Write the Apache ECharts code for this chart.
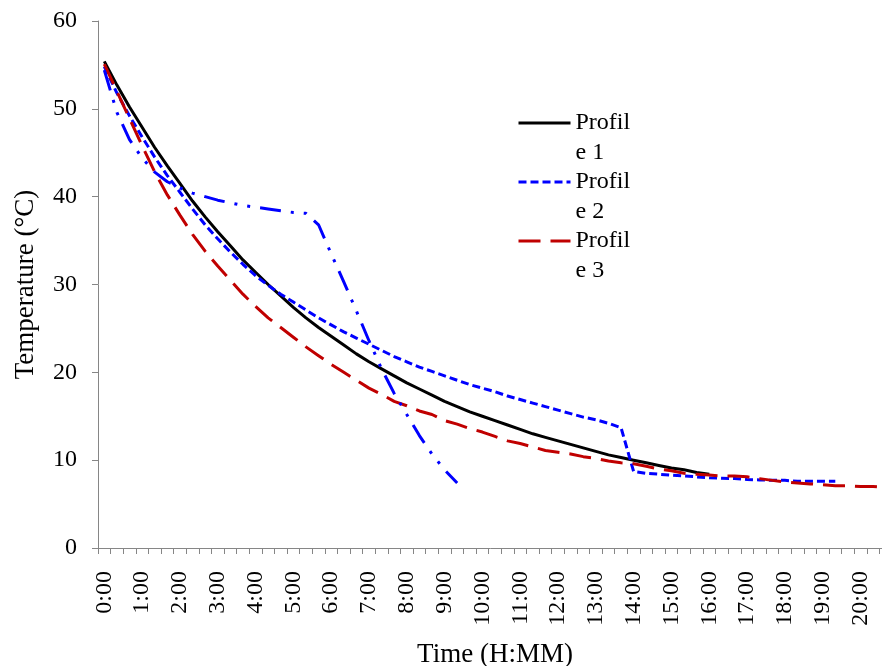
<!DOCTYPE html>
<html>
<head>
<meta charset="utf-8">
<script src="https://cdn.jsdelivr.net/npm/echarts@6/dist/echarts.min.js"></script>
<style>
  html, body { margin: 0; padding: 0; background: #fff; }
  #chart { width: 882px; height: 666px; }
</style>
</head>
<body>
<div id="chart"></div>
<script>
// time categories, 20 minute steps
const categories = [
  '0:00', '0:20', '0:40', '1:00', '1:20', '1:40', '2:00', '2:20', '2:40',
  '3:00', '3:20', '3:40', '4:00', '4:20', '4:40', '5:00', '5:20', '5:40',
  '6:00', '6:20', '6:40', '7:00', '7:20', '7:40', '8:00', '8:20', '8:40',
  '9:00', '9:20', '9:40', '10:00', '10:20', '10:40', '11:00', '11:20', '11:40',
  '12:00', '12:20', '12:40', '13:00', '13:20', '13:40', '14:00', '14:20', '14:40',
  '15:00', '15:20', '15:40', '16:00', '16:20', '16:40', '17:00', '17:20', '17:40',
  '18:00', '18:20', '18:40', '19:00', '19:20', '19:40', '20:00', '20:20', '20:40'
];

const profile1 = [
  55.4, 52.7, 50.2, 47.9, 45.6, 43.5, 41.5, 39.5, 37.7, 36.0,
  34.4, 32.8, 31.4, 30.0, 28.7, 27.4, 26.2, 25.1, 24.1, 23.1,
  22.1, 21.2, 20.4, 19.6, 18.8, 18.1, 17.4, 16.7, 16.1, 15.5,
  15.0, 14.5, 14.0, 13.5, 13.0, 12.6, 12.2, 11.8, 11.4, 11.0,
  10.6, 10.3, 10.0, 9.7, 9.4, 9.1, 8.9, 8.6, 8.4
];

const profile2 = [
  54.8, 51.8, 49.2, 46.8, 44.5, 42.4, 40.5, 38.6, 36.8, 35.2,
  33.7, 32.3, 31.0, 29.9, 28.9, 28.0, 27.1, 26.2, 25.4, 24.6,
  23.9, 23.2, 22.5, 21.8, 21.2, 20.6, 20.1, 19.6, 19.1, 18.6,
  18.2, 17.8, 17.3, 16.9, 16.5, 16.1, 15.7, 15.3, 14.9, 14.6,
  14.2, 13.7, 8.7, 8.5, 8.4, 8.3, 8.2, 8.1, 8.0, 7.95,
  7.9, 7.8, 7.75, 7.7, 7.7, 7.6, 7.6, 7.6, 7.6
];

const profile3 = [
  55.1, 52.0, 48.9, 45.8, 42.8, 40.2, 37.9, 35.7, 33.8, 32.1,
  30.5, 28.9, 27.5, 26.2, 25.1, 24.0, 22.9, 21.9, 20.9, 20.0,
  19.1, 18.2, 17.5, 16.7, 16.2, 15.6, 15.2, 14.5, 14.1, 13.6,
  13.2, 12.7, 12.2, 11.9, 11.5, 11.1, 10.9, 10.7, 10.4, 10.2,
  9.9, 9.7, 9.6, 9.3, 9.0, 8.8, 8.5, 8.4, 8.3, 8.2,
  8.2, 8.1, 7.9, 7.7, 7.5, 7.4, 7.3, 7.2, 7.1, 7.1,
  7.0, 7.0, 6.9
];

// fourth profile, no legend entry in the original
const profile4 = [
  54.4, 49.6, 46.5, 44.4, 42.8, 41.7, 41.0, 40.4, 40.0, 39.6,
  39.3, 39.0, 38.8, 38.6, 38.4, 38.2, 38.1, 36.8, 33.5, 30.3,
  27.0, 23.6, 20.4, 17.6, 15.2, 12.8, 10.7, 8.9, 7.4
];

const yTicks = { min: 0, max: 60, interval: 10 };

const font = '"Liberation Serif", "Times New Roman", serif';
const axisGray = '#868686';

const chart = echarts.init(document.getElementById('chart'));
chart.setOption({
  animation: false,
  backgroundColor: '#fff',
  textStyle: { fontFamily: font, color: '#000' },
  grid: {
    left: 98,
    top: 21,
    width: 794,
    height: 527,
    containLabel: false,
    outerBoundsMode: 'none'
  },
  legend: {
    orient: 'vertical',
    left: 517,
    top: 78,
    padding: 0,
    itemWidth: 52,
    itemHeight: 14,
    itemGap: -31,
    data: ['Profile 1', 'Profile 2', 'Profile 3'],
    // empty first line so the sample sits beside "Profil", as in Excel
    formatter: function (name) {
      return ' \nProfil\ne ' + name.slice(-1);
    },
    itemStyle: { opacity: 0 },
    lineStyle: { width: 3 },
    textStyle: {
      fontFamily: font,
      fontSize: 24,
      lineHeight: 30,
      color: '#000'
    }
  },
  xAxis: {
    type: 'category',
    data: categories,
    boundaryGap: true,
    name: 'Time (H:MM)',
    nameLocation: 'middle',
    nameGap: 93,
    nameTextStyle: { fontFamily: font, fontSize: 27, color: '#000' },
    axisLine: { lineStyle: { color: axisGray, width: 1 } },
    axisTick: { show: true, interval: 0, length: 6, lineStyle: { color: axisGray } },
    axisLabel: {
      interval: 2,
      rotate: 90,
      margin: 23,
      fontFamily: font,
      fontSize: 24,
      color: '#000'
    },
    splitLine: { show: false }
  },
  yAxis: {
    type: 'value',
    min: yTicks.min,
    max: yTicks.max,
    interval: yTicks.interval,
    name: 'Temperature (°C)',
    nameLocation: 'middle',
    nameRotate: 90,
    nameGap: 59,
    nameTextStyle: { fontFamily: font, fontSize: 27, color: '#000' },
    axisLine: { show: true, lineStyle: { color: axisGray, width: 1 } },
    axisTick: { show: true, length: 6, lineStyle: { color: axisGray } },
    axisLabel: { margin: 21, fontFamily: font, fontSize: 24, color: '#000' },
    splitLine: { show: false }
  },
  series: [
    {
      name: 'Profile 1',
      type: 'line',
      data: profile1,
      symbol: 'none',
      lineStyle: { color: '#000000', width: 3, type: 'solid' },
      itemStyle: { color: '#000000' }
    },
    {
      name: 'Profile 2',
      type: 'line',
      data: profile2,
      symbol: 'none',
      lineStyle: { color: '#0000ff', width: 3, type: [8, 4] },
      itemStyle: { color: '#0000ff' }
    },
    {
      name: 'Profile 3',
      type: 'line',
      data: profile3,
      symbol: 'none',
      lineStyle: { color: '#c00000', width: 3, type: [22, 10] },
      itemStyle: { color: '#c00000' }
    },
    {
      name: 'Profile 4',
      type: 'line',
      data: profile4,
      symbol: 'none',
      lineStyle: { color: '#0000ff', width: 3, type: [21, 10, 3, 10, 3, 10] },
      itemStyle: { color: '#0000ff' }
    }
  ]
});
</script>
</body>
</html>
